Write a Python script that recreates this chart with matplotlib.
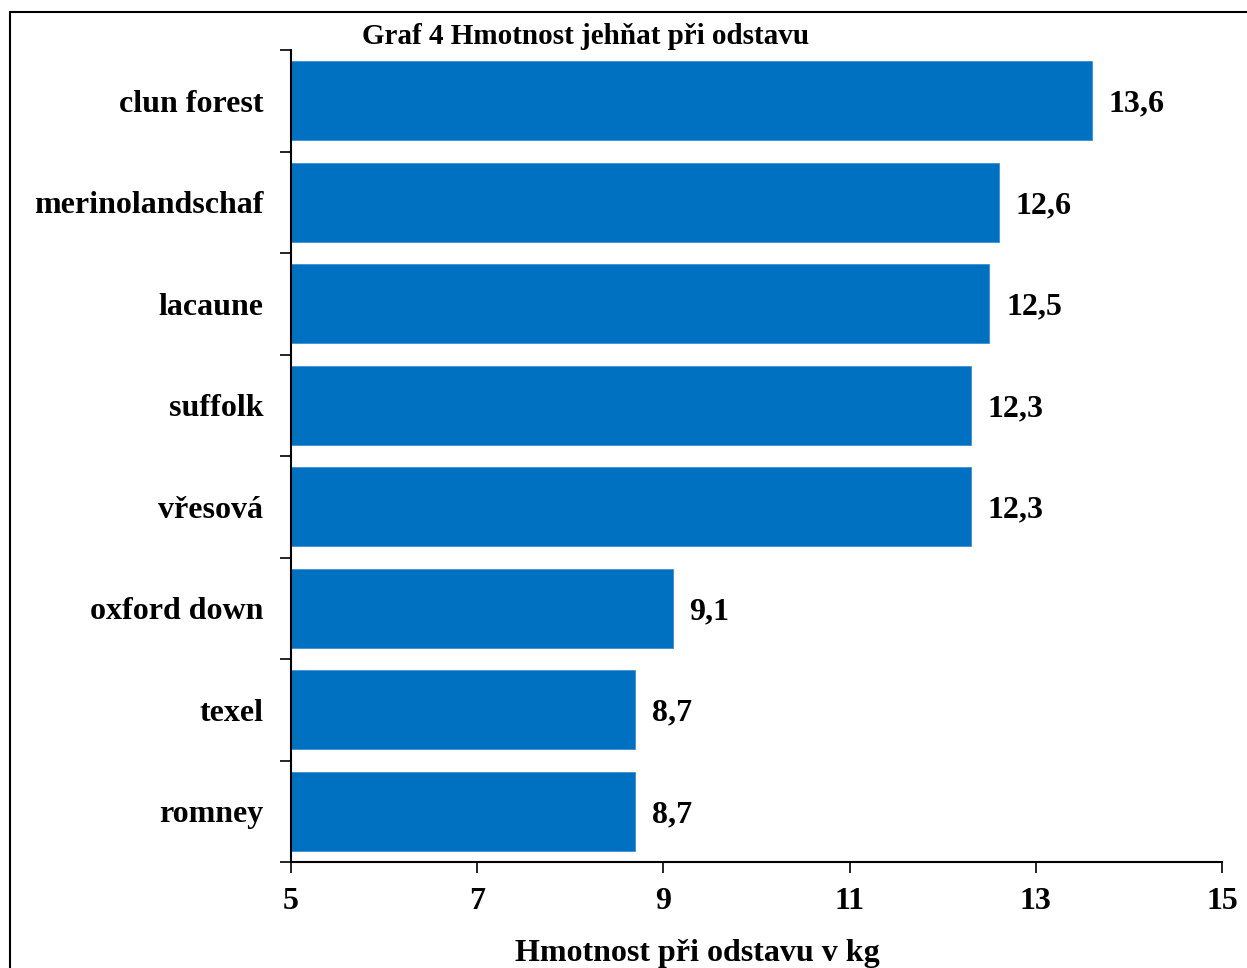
import matplotlib.pyplot as plt
import numpy as np
from matplotlib.patches import Rectangle

plt.rcParams['font.family'] = ['Liberation Serif', 'DejaVu Serif']
plt.rcParams['font.weight'] = 'bold'

breeds = ['clun forest', 'merinolandschaf', 'lacaune', 'suffolk', 'vřesová',
          'oxford down', 'texel', 'romney']
weights = [13.6, 12.6, 12.5, 12.3, 12.3, 9.1, 8.7, 8.7]
xticks = [5, 7, 9, 11, 13, 15]

fig = plt.figure(figsize=(12.47, 9.68), dpi=100)
ax = fig.add_axes([291 / 1247, 1 - 862 / 968, (1222 - 291) / 1247, (862 - 50) / 968])

# frame round the whole chart (bottom and right run off the picture)
fig.patches.append(Rectangle((10 / 1247, -0.05), 1.2, 1 - 12 / 968 + 0.05,
                             transform=fig.transFigure, fill=False,
                             edgecolor='black', linewidth=1.5))

pos = np.arange(len(breeds))
ax.barh(pos, [w - 5 for w in weights], left=5, height=0.78, color='#0070C0',
        edgecolor='#3a8fd6', linewidth=0.6)
for p, w in zip(pos, weights):
    ax.text(w + 0.18, p, f'{w:.1f}'.replace('.', ','), va='center_baseline', ha='left',
            fontsize=23, fontweight='bold')

ax.set_xlim(5, 15)
ax.set_ylim(len(breeds) - 0.5, -0.5)
ax.set_xticks(xticks)
ax.set_xticklabels([str(t) for t in xticks], fontsize=23, fontweight='bold')
ax.set_yticks(np.arange(-0.5, len(breeds)))
ax.set_yticklabels([])
ax.set_yticks(pos, minor=True)
ax.set_yticklabels(breeds, minor=True, fontsize=23, fontweight='bold')
ax.tick_params(axis='y', which='minor', length=0, pad=20)
ax.tick_params(axis='y', which='major', length=8, width=1.2, direction='out')
ax.tick_params(axis='x', length=8, width=1.2, direction='out', pad=10)

for s in ['top', 'right']:
    ax.spines[s].set_visible(False)
for s in ['left', 'bottom']:
    ax.spines[s].set_linewidth(1.5)

fig.text(586 / 1247, 1 - 36 / 968, 'Graf 4 Hmotnost jehňat při odstavu',
         ha='center', va='center', fontsize=21, fontweight='bold')
fig.text(697 / 1247, 1 - 953 / 968, 'Hmotnost při odstavu v kg',
         ha='center', va='center', fontsize=23, fontweight='bold')

fig.savefig('out.png', dpi=100)
